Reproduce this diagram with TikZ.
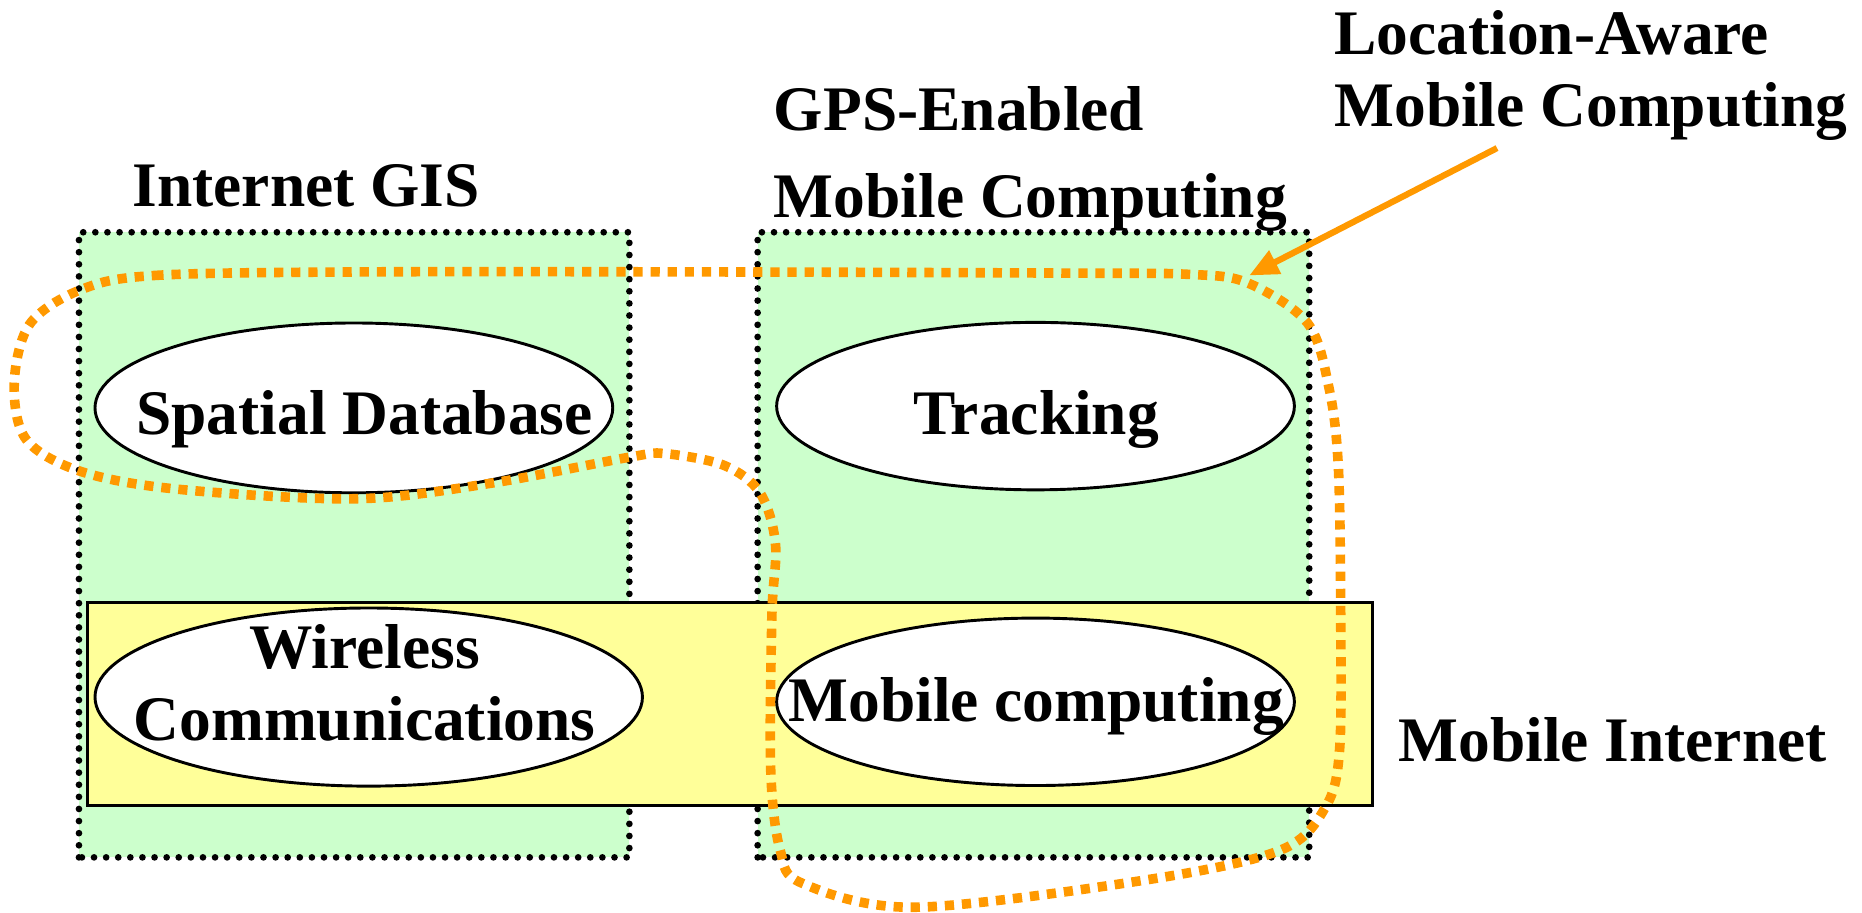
\documentclass[tikz,border=0pt]{standalone}
\usepackage{fontspec}
\setmainfont{Liberation Serif}
\usepackage{tikz}
\usetikzlibrary{arrows.meta}
\definecolor{gisgreen}{HTML}{CCFFCC}
\definecolor{netyellow}{HTML}{FFFF99}
\definecolor{lbsorange}{HTML}{FF9900}
\tikzset{
  zone/.style = {fill=gisgreen, draw=black, line width=1.6pt, line cap=round, dash pattern=on 0pt off 2.9pt},
  band/.style = {fill=netyellow, draw=black, line width=0.7pt},
  blob/.style = {draw=black, line width=0.7pt, fill=white},
  word/.style = {inner sep=0pt, font=\bfseries\fontsize{15.2}{17.2}\selectfont},
  reach/.style = {draw=lbsorange, line width=2.3pt, dash pattern=on 2.2pt off 1.9pt},
  pointer/.style = {draw=lbsorange, line width=1.5pt, -{Triangle[length=7pt,width=6pt]}},
}

\begin{document}
\begin{tikzpicture}[x=1cm,y=1cm]
  \useasboundingbox (0,0) rectangle (15.68,7.68);

  \draw[zone] (0.665,0.46) rectangle (5.30,5.724);
  \draw[zone] (6.38,0.46) rectangle (11.025,5.724);
  \draw[band] (0.74,0.90) rectangle (11.56,2.61);

  \foreach \x/\y/\rx/\ry in {2.98/4.245/2.18/0.715, 8.72/4.26/2.18/0.705, 3.105/1.81/2.305/0.75, 8.72/1.77/2.18/0.705}{
    \draw[blob] (\x,\y) ellipse [x radius=\rx, y radius=\ry];
  }
  \node[word, anchor=base] (sdb) at (3.07,4.02) {Spatial Database};
  \node[word, anchor=base] (trk) at (8.725,4.02) {Tracking};
  \node[word, anchor=north, align=center] (wlc) at (3.07,2.43) {Wireless\\Communications};
  \node[word, anchor=base] (mbc) at (8.725,1.60) {Mobile computing};

  \node[word, anchor=base west] (gis) at (1.11,5.94) {Internet GIS};
  \node[word, anchor=north west, align=left, font=\bfseries\fontsize{15.2}{20.8}\selectfont] (gps) at (6.51,6.96) {GPS-Enabled\\Mobile Computing};
  \node[word, anchor=north west, align=left] (loc) at (11.23,7.60) {Location-Aware\\Mobile Computing};
  \node[word, anchor=base west] (mbi) at (11.77,1.27) {Mobile Internet};

  \draw[reach] plot[smooth cycle, tension=0.55] coordinates {
    (0.68,5.24) (1.30,5.36) (3.00,5.39) (6.00,5.39) (9.00,5.38) (10.00,5.37) (10.50,5.30)
    (11.01,4.96) (11.19,4.42) (11.27,3.75) (11.29,2.50) (11.28,1.36) (11.16,0.88)
    (10.78,0.52) (9.65,0.27) (7.70,0.04) (6.76,0.24) (6.57,0.52) (6.49,1.20) (6.50,2.50)
    (6.53,3.10) (6.40,3.53) (6.10,3.76) (5.60,3.86) (5.30,3.83) (4.13,3.61) (3.00,3.48)
    (1.50,3.56) (0.68,3.71) (0.22,3.98) (0.12,4.45) (0.25,4.95)
  };

  \coordinate (tip) at (10.52,5.36);
  \draw[pointer] ([xshift=-0.79cm,yshift=-0.06cm]loc.south) -- (tip);
\end{tikzpicture}
\end{document}
